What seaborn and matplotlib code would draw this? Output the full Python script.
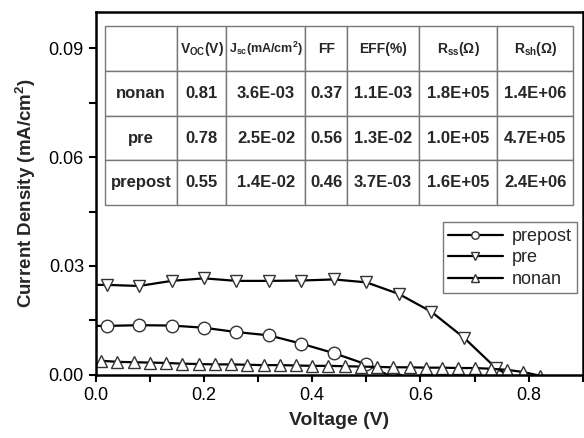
import matplotlib
matplotlib.use("Agg")
import matplotlib.pyplot as plt
from matplotlib.ticker import MultipleLocator
import seaborn as sns

# J-V data
pre_v = [0.0, 0.02, 0.08, 0.14, 0.20, 0.26, 0.32, 0.38, 0.44, 0.50, 0.56, 0.62, 0.68, 0.74, 0.80]
pre_j = [0.0248, 0.0248, 0.0245, 0.0259, 0.0266, 0.0259, 0.0259, 0.0260, 0.0263, 0.0255,
         0.0223, 0.0174, 0.0103, 0.0018, -0.0030]

prepost_v = [0.0, 0.02, 0.08, 0.14, 0.20, 0.26, 0.32, 0.38, 0.44, 0.50, 0.56]
prepost_j = [0.0135, 0.0135, 0.0137, 0.0136, 0.0130, 0.0118, 0.0109, 0.0086, 0.0060, 0.0029, -0.0015]

nonan_v = [0.01, 0.04, 0.07, 0.10, 0.13, 0.16, 0.19, 0.22, 0.25, 0.28, 0.31, 0.34, 0.37, 0.40,
           0.43, 0.46, 0.49, 0.52, 0.55, 0.58, 0.61, 0.64, 0.67, 0.70, 0.73, 0.76, 0.79, 0.82]
nonan_j = [0.0039, 0.0036, 0.0035, 0.0034, 0.0033, 0.0031, 0.0030, 0.0029, 0.0029, 0.0028,
           0.0027, 0.0027, 0.0026, 0.0025, 0.0025, 0.0024, 0.0023, 0.0022, 0.0021, 0.0021,
           0.0020, 0.0020, 0.0019, 0.0019, 0.0017, 0.0014, 0.0008, -0.0002]

# table contents
row_names = ["nonan", "pre", "prepost"]
col_names = [r"V$_\mathregular{OC}$(V)", r"J$_\mathregular{sc}$(mA/cm$^\mathregular{2}$)", "FF",
             "EFF(%)", r"R$_\mathregular{ss}$(Ω)", r"R$_\mathregular{sh}$(Ω)"]
table_vals = [
    ["0.81", "3.6E-03", "0.37", "1.1E-03", "1.8E+05", "1.4E+06"],
    ["0.78", "2.5E-02", "0.56", "1.3E-02", "1.0E+05", "4.7E+05"],
    ["0.55", "1.4E-02", "0.46", "3.7E-03", "1.6E+05", "2.4E+06"],
]
header_sizes = [0, 10, 9, 10, 10, 10, 10]

sns.set_style("ticks")
plt.rcParams["font.family"] = ["Liberation Sans", "DejaVu Sans"]
plt.rcParams["mathtext.fontset"] = "custom"
plt.rcParams["mathtext.rm"] = "Liberation Sans"
plt.rcParams["mathtext.bf"] = "Liberation Sans:bold"

fig = plt.figure(figsize=(5.84, 4.38), dpi=100)
ax = fig.add_axes([0.164, 0.144, 0.834, 0.829])

mk = dict(color="black", linewidth=1.6, markersize=9, markerfacecolor="white",
          markeredgecolor="#333333", markeredgewidth=1.0)
sns.lineplot(x=prepost_v, y=prepost_j, marker="o", markevery=slice(1, None),
             label="prepost", ax=ax, **mk)
sns.lineplot(x=pre_v, y=pre_j, marker="v", markevery=slice(1, None),
             label="pre", ax=ax, **mk)
sns.lineplot(x=nonan_v, y=nonan_j, marker="^", label="nonan", ax=ax, **mk)

ax.set_xlim(0, 0.9)
ax.set_ylim(0, 0.1)
ax.xaxis.set_major_locator(MultipleLocator(0.2))
ax.xaxis.set_minor_locator(MultipleLocator(0.1))
ax.yaxis.set_major_locator(MultipleLocator(0.03))
ax.yaxis.set_minor_locator(MultipleLocator(0.015))
ax.xaxis.set_major_formatter(plt.FormatStrFormatter("%.1f"))
ax.yaxis.set_major_formatter(plt.FormatStrFormatter("%.2f"))
ax.tick_params(which="both", direction="out", length=5, width=1.5, labelsize=13, colors="black")
for s in ax.spines.values():
    s.set_linewidth(1.8)
    s.set_color("black")

ax.set_xlabel("Voltage (V)", fontsize=14, fontweight="bold", labelpad=6)
ax.set_ylabel(r"Current Density (mA/cm$^\mathbf{2}$)", fontsize=13.5, fontweight="bold", labelpad=8)

leg = ax.legend(loc="upper right", bbox_to_anchor=(0.988, 0.42), borderaxespad=0,
                fontsize=13, frameon=True, fancybox=False, markerscale=0.6,
                handlelength=3.0, handletextpad=0.5, labelspacing=0.25, borderpad=0.3)
leg.get_frame().set_edgecolor("#555555")
leg.get_frame().set_linewidth(1.0)

# parameter table inside the axes
cells = [[""] + col_names] + [[r] + v for r, v in zip(row_names, table_vals)]
tab = ax.table(cellText=cells, cellLoc="center",
               colWidths=[72.7, 49, 79, 41.6, 71.7, 78.7, 75.6],
               bbox=[0.0185, 0.468, 0.9615, 0.492])
tab.auto_set_font_size(False)
for (r, c), cell in tab.get_celld().items():
    cell.set_edgecolor("#777777")
    cell.set_linewidth(1.0)
    t = cell.get_text()
    t.set_fontweight("bold")
    t.set_fontsize(header_sizes[c] if r == 0 else 12)

fig.savefig("out.png", dpi=100)
